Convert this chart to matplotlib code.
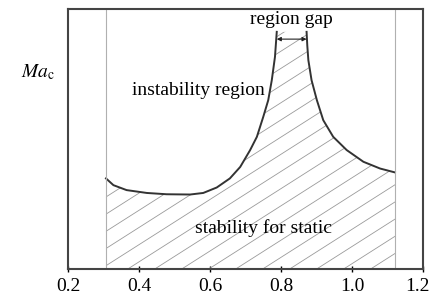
import numpy as np
import matplotlib
matplotlib.use('Agg')
import matplotlib.pyplot as plt
import matplotlib.transforms as mtransforms
from matplotlib.patches import Polygon

plt.rcParams['font.family'] = ['Liberation Serif', 'DejaVu Serif']
plt.rcParams['mathtext.fontset'] = 'stix'

# left branch of the critical curve
left_x = [0.307, 0.328, 0.365, 0.422, 0.478, 0.544, 0.581, 0.619, 0.656,
          0.685, 0.713, 0.732, 0.750, 0.764, 0.774, 0.783, 0.788]
left_y = [0.349, 0.323, 0.304, 0.293, 0.288, 0.287, 0.293, 0.314, 0.349,
          0.393, 0.458, 0.509, 0.586, 0.650, 0.727, 0.817, 0.913]

# right branch
right_x = [0.872, 0.874, 0.877, 0.886, 0.901, 0.919, 0.947, 0.985, 1.032,
           1.079, 1.121]
right_y = [0.913, 0.860, 0.804, 0.727, 0.650, 0.573, 0.509, 0.458, 0.413,
           0.387, 0.372]

x_left_bound = 0.307
x_right_bound = 1.121
xticks = [0.2, 0.4, 0.6, 0.8, 1.0, 1.2]

fig = plt.figure(figsize=(4.33, 2.98), dpi=100)
ax = fig.add_axes([0.157, 0.097, 0.820, 0.872])

# hatched stable region under the curve
verts = ([(x_left_bound, 0)] + list(zip(left_x, left_y))
         + list(zip(right_x, right_y)) + [(x_right_bound, 0)])
region = Polygon(verts, closed=True, facecolor='none', edgecolor='none',
                 transform=ax.transData)
ax.add_patch(region)

# shallow diagonal hatch lines (drawn in axes coords, clipped to region)
slope = 0.87
for x0 in np.arange(-1.2, 1.2, 0.076):
    ln, = ax.plot([x0, x0 + 1.5], [0, 1.5 * slope], color='#9a9a9a', lw=0.6,
                  transform=ax.transAxes)
    ln.set_clip_path(region)

ax.plot(left_x, left_y, color='#333333', lw=1.4)
ax.plot(right_x, right_y, color='#333333', lw=1.4)

ax.axvline(x_left_bound, color='#b0b0b0', lw=0.8)
ax.axvline(x_right_bound, color='#b0b0b0', lw=0.8)

# region gap arrow
ax.annotate('', xy=(left_x[-1], 0.885), xytext=(right_x[0], 0.885),
            arrowprops=dict(arrowstyle='<|-|>', color='#222222', lw=0.8,
                            mutation_scale=6, shrinkA=0, shrinkB=0))
ax.text(0.828, 0.962, 'region gap', fontsize=14, ha='center', va='center')
ax.text(0.567, 0.688, 'instability region', fontsize=14, ha='center', va='center')
ax.text(0.752, 0.158, 'stability for static', fontsize=14, ha='center', va='center')

ax.text(-0.085, 0.758, r'$Ma_{\rm c}$', fontsize=14, ha='center', va='center',
        transform=ax.transAxes)

ax.set_xlim(0.2, 1.2)
ax.set_ylim(0, 1)
ax.set_xticks(xticks)
ax.set_xticklabels([f'{t:.1f}' for t in xticks], fontsize=14)
ax.set_yticks([])
ax.tick_params(axis='x', direction='inout', length=5, width=1, pad=4)
for s in ax.spines.values():
    s.set_color('#444444')
    s.set_linewidth(1.5)

# nudge the last label so it stays inside the figure, like the original
last = ax.get_xticklabels()[-1]
last.set_transform(last.get_transform()
                   + mtransforms.ScaledTranslation(-4 / 72, 0, fig.dpi_scale_trans))

fig.savefig('out.png', dpi=100)
